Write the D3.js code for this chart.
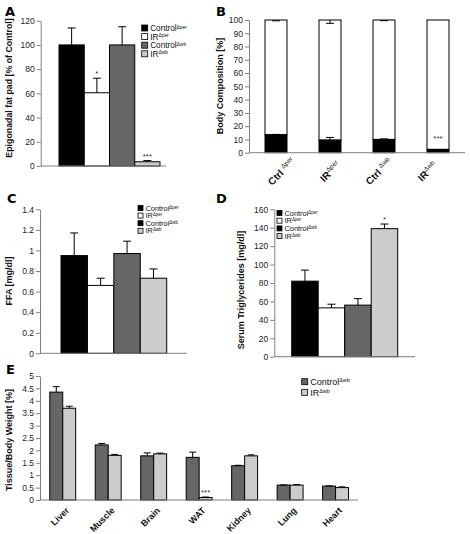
<!DOCTYPE html>
<html><head><meta charset="utf-8">
<script src="https://cdn.jsdelivr.net/npm/d3@7"></script>
<style>
body{margin:0;background:#fff;}
svg{font-family:"Liberation Sans", Arial, sans-serif;}
</style></head><body>
<svg id="c" width="470" height="534"></svg>
<script>
// ---------- data ----------
const groups = ["Control", "IR", "Control", "IR"];
const groupSup = ["Δper", "Δper", "Δwb", "Δwb"];
const groupShort = ["Ctrl", "IR", "Ctrl", "IR"];

const fatPadVals = [100, 60.5, 100, 3.5];
const fatPadErr = [14, 12, 15, 1];
const fatPadSig = ["", "*", "", "***"];
const fatPadTicks = [0, 20, 40, 60, 80, 100, 120];

const bodyFatVals = [13.5, 9.5, 10, 2.5];
const bodyFatErr = [0.3, 2, 0.4, 0];
const bodyLeanErr = [0.6, 2.5, 0.5, 0];
const bodySig = ["", "", "", "***"];
const bodyTicks = [0, 10, 20, 30, 40, 50, 60, 70, 80, 90, 100];

const ffaVals = [0.95, 0.66, 0.97, 0.73];
const ffaErr = [0.22, 0.07, 0.12, 0.09];
const ffaTicks = [0, 0.2, 0.4, 0.6, 0.8, 1, 1.2, 1.4];

const tgVals = [82, 53, 56, 139];
const tgErr = [12, 4, 7, 5];
const tgSig = ["", "", "", "*"];
const tgTicks = [0, 20, 40, 60, 80, 100, 120, 140, 160];

const tissues = ["Liver", "Muscle", "Brain", "WAT", "Kidney", "Lung", "Heart"];
const ctrlWbVals = [4.35, 2.22, 1.78, 1.72, 1.38, 0.6, 0.56];
const ctrlWbErr = [0.22, 0.06, 0.12, 0.21, 0.02, 0.01, 0.01];
const irWbVals = [3.7, 1.8, 1.86, 0.1, 1.78, 0.6, 0.5];
const irWbErr = [0.08, 0.04, 0.03, 0.02, 0.04, 0.02, 0.03];
const irWbSig = ["", "", "", "***", "", "", ""];
const tissueTicks = [0, 0.5, 1, 1.5, 2, 2.5, 3, 3.5, 4, 4.5, 5];

// ---------- styles ----------
const barColors = ["#000000", "#ffffff", "#666666", "#cccccc"];
const legendColorsCD = ["#000000", "#ffffff", "#000000", "#cccccc"];
const axisColor = "#808080";

const svg = d3.select("#c");

function yAxis(scale, ticks, x, fs) {
  const g = svg.append("g").attr("transform", `translate(${x},0)`)
    .call(d3.axisLeft(scale).tickValues(ticks).tickSize(4).tickSizeOuter(0).tickPadding(2).tickFormat(d => String(d)));
  g.attr("font-family", null).attr("font-size", null);
  g.select(".domain").attr("stroke", axisColor);
  g.selectAll(".tick line").attr("stroke", axisColor);
  g.selectAll(".tick text").attr("font-size", fs || 8.5).attr("fill", "#222");
  return g;
}
function xLine(y, x0, x1) {
  svg.append("line").attr("x1", x0).attr("x2", x1).attr("y1", y).attr("y2", y)
    .attr("stroke", axisColor).attr("stroke-width", 1);
}
function errBar(cx, y0, y1, cap) {
  const g = svg.append("g").attr("stroke", "#000").attr("stroke-width", 1);
  g.append("line").attr("x1", cx).attr("x2", cx).attr("y1", y0).attr("y2", y1);
  g.append("line").attr("x1", cx - cap / 2).attr("x2", cx + cap / 2).attr("y1", y1).attr("y2", y1);
}
function supText(sel, main, sup, fs) {
  sel.append("tspan").text(main);
  sel.append("tspan").attr("font-size", fs * 0.6).attr("dy", -fs * 0.28).text(sup);
}
function yTitle(text, cx, cy, fs) {
  svg.append("text").attr("transform", `translate(${cx},${cy}) rotate(-90)`)
    .attr("text-anchor", "middle").attr("font-size", fs).attr("font-weight", "bold")
    .attr("fill", "#111").text(text);
}
function letter(t, x, y) {
  svg.append("text").attr("x", x).attr("y", y).attr("font-size", 13).attr("font-weight", 900)
    .attr("font-family", "'DejaVu Sans', 'Liberation Sans', sans-serif").text(t);
}
function legend(x, y, dy, fs, sq, labels, sups, colors) {
  labels.forEach((lab, i) => {
    const cy = y + i * dy;
    svg.append("rect").attr("x", x).attr("y", cy - sq / 2).attr("width", sq).attr("height", sq)
      .attr("fill", colors[i]).attr("stroke", "#000").attr("stroke-width", 0.8);
    const t = svg.append("text").attr("x", x + sq + 2.5).attr("y", cy + fs * 0.36)
      .attr("font-size", fs).attr("fill", "#111");
    supText(t, lab, sups[i], fs);
  });
}
function star(cx, y, s) {
  if (!s) return;
  svg.append("text").attr("x", cx).attr("y", y).attr("text-anchor", "middle")
    .attr("font-size", 8).attr("fill", "#333").text(s);
}
function simpleBars(vals, errs, sigs, y, x0, x1) {
  const x = d3.scaleBand().domain(d3.range(vals.length)).range([x0, x1]).padding(0);
  vals.forEach((v, i) => {
    svg.append("rect").attr("x", x(i)).attr("y", y(v)).attr("width", x.bandwidth())
      .attr("height", y(0) - y(v)).attr("fill", barColors[i]).attr("stroke", "#000").attr("stroke-width", 1);
    const cx = x(i) + x.bandwidth() / 2;
    if (errs[i] > 0) errBar(cx, y(v), y(v + errs[i]), 8);
    if (sigs) star(cx, y(v + errs[i]) - 2, sigs[i]);
  });
}

// ---------- Panel A ----------
const yA = d3.scaleLinear().domain([0, 120]).range([166, 20.7]);
simpleBars(fatPadVals, fatPadErr, fatPadSig, yA, 59, 160);
yAxis(yA, fatPadTicks, 40.7);
xLine(yA(0), 40.7, 166);
yTitle("Epigonadal fat pad [% of Control]", 11.5, 88, 8.8);
legend(141.7, 28, 8.6, 8.2, 6, groups, groupSup, barColors);
letter("A", 5, 16);

// ---------- Panel B ----------
const yB = d3.scaleLinear().domain([0, 100]).range([152.7, 20]);
const xB = d3.scaleBand().domain(d3.range(4)).range([249, 465]).paddingInner(0.593).paddingOuter(0.2965);
bodyFatVals.forEach((v, i) => {
  const bx = xB(i), bw = xB.bandwidth(), cx = bx + bw / 2;
  svg.append("rect").attr("x", bx).attr("y", yB(100)).attr("width", bw).attr("height", yB(v) - yB(100))
    .attr("fill", "#fff").attr("stroke", "#000").attr("stroke-width", 1);
  svg.append("rect").attr("x", bx).attr("y", yB(v)).attr("width", bw).attr("height", yB(0) - yB(v))
    .attr("fill", "#000").attr("stroke", "#000").attr("stroke-width", 1);
  if (bodyLeanErr[i] > 0) errBar(cx, yB(100), yB(100 - bodyLeanErr[i]), 8);
  if (bodyFatErr[i] > 0) errBar(cx, yB(v), yB(v + bodyFatErr[i]), 8);
  star(cx, yB(v) - 8, bodySig[i]);
});
yAxis(yB, bodyTicks, 249);
xLine(yB(0), 249, 465);
yTitle("Body Composition [%]", 223, 86, 9);
const xBLab = d3.scalePoint().domain(d3.range(4)).range([284, 430]);
groupShort.forEach((g, i) => {
  const t = svg.append("text").attr("transform", `translate(${xBLab(i)},174) rotate(-45)`)
    .attr("text-anchor", "middle").attr("font-size", 10).attr("font-weight", "bold").attr("fill", "#111");
  t.append("tspan").text(g + (g === "Ctrl" ? " " : ""));
  t.append("tspan").attr("font-size", 6.5).attr("font-weight", "normal").attr("dy", -4).text(groupSup[i]);
});
letter("B", 216, 16);

// ---------- Panel C ----------
const yC = d3.scaleLinear().domain([0, 1.4]).range([353.3, 209.3]);
simpleBars(ffaVals, ffaErr, null, yC, 61, 166.7);
yAxis(yC, ffaTicks, 40);
xLine(yC(0), 40, 186.7);
yTitle("FFA [mg/dl]", 11.5, 281, 9);
legend(138, 208, 7.6, 7.4, 5, groups, groupSup, legendColorsCD);
letter("C", 7, 203);

// ---------- Panel D ----------
const yD = d3.scaleLinear().domain([0, 160]).range([356.7, 209.3]);
simpleBars(tgVals, tgErr, tgSig, yD, 291.7, 397.7);
yAxis(yD, tgTicks, 274.3);
xLine(yD(0), 274.3, 415);
yTitle("Serum Triglycerides [mg/dl]", 244, 290, 9);
legend(277, 213, 7.7, 7.4, 5, groups, groupSup, legendColorsCD);
letter("D", 216, 203);

// ---------- Panel E ----------
const yE = d3.scaleLinear().domain([0, 5]).range([500, 376]);
const xE = d3.scaleBand().domain(tissues).range([40, 358.3]).paddingInner(0.43).paddingOuter(0.215);
const xE2 = d3.scaleBand().domain([0, 1]).range([0, xE.bandwidth()]);
const eSeries = [
  { vals: ctrlWbVals, errs: ctrlWbErr, color: "#666666", sig: null },
  { vals: irWbVals, errs: irWbErr, color: "#cccccc", sig: irWbSig }
];
tissues.forEach((t, i) => {
  eSeries.forEach((s, k) => {
    const bx = xE(t) + xE2(k), bw = xE2.bandwidth(), v = s.vals[i];
    svg.append("rect").attr("x", bx).attr("y", yE(v)).attr("width", bw).attr("height", yE(0) - yE(v))
      .attr("fill", s.color).attr("stroke", "#000").attr("stroke-width", 1);
    errBar(bx + bw / 2, yE(v), yE(v + s.errs[i]), 7);
    if (s.sig) star(bx + bw / 2, yE(v + s.errs[i]) - 2, s.sig[i]);
  });
  svg.append("text").attr("transform", `translate(${xE(t) + xE.bandwidth() / 2 + 7},511) rotate(-45)`)
    .attr("text-anchor", "end").attr("font-size", 9).attr("font-weight", "bold").attr("fill", "#111").text(t);
});
yAxis(yE, tissueTicks, 40);
xLine(yE(0), 40, 358.3);
yTitle("Tissue/Body Weight [%]", 12, 440, 9);
legend(301.7, 381.7, 10.6, 9, 6, ["Control", "IR"], ["Δwb", "Δwb"], ["#666666", "#cccccc"]);
letter("E", 6, 374);
</script>
</body></html>
